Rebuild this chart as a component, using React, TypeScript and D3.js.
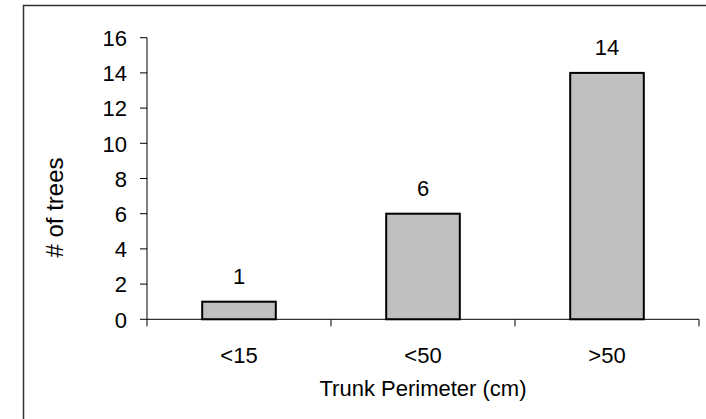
import React from "react";
import * as d3 from "d3";

const categories = ["<15", "<50", ">50"];
const values = [1, 6, 14];
const yTicks = [0, 2, 4, 6, 8, 10, 12, 14, 16];
const yLabel = "# of trees";
const xLabel = "Trunk Perimeter (cm)";

const W = 706;
const H = 419;
const left = 147;
const right = 699;
const top = 37.7;
const bottom = 319.3;
const font = "'Liberation Sans', Arial, sans-serif";

export default function App() {
  const x = d3.scaleBand<string>().domain(categories).range([left, right]).paddingInner(0.6).paddingOuter(0.3);
  const xb = d3.scaleBand<string>().domain(categories).range([left, right]);
  const y = d3.scaleLinear().domain([0, 16]).range([bottom, top]);
  const boundaries = [...categories.map((c) => xb(c) as number), right];

  return (
    <svg width={W} height={H} style={{ position: "absolute", left: 0, top: 0, background: "#fff" }}>
      <rect x={23.5} y={5.5} width={720} height={440} fill="none" stroke="#333" strokeWidth={1.5} />
      {categories.map((c, i) => (
        <g key={c}>
          <rect
            x={x(c)}
            y={y(values[i])}
            width={x.bandwidth()}
            height={y(0) - y(values[i])}
            fill="#c0c0c0"
            stroke="#000"
            strokeWidth={2}
          />
          <text
            x={(x(c) as number) + x.bandwidth() / 2}
            y={y(values[i]) - 18}
            textAnchor="middle"
            fontFamily={font}
            fontSize={22}
            fill="#000"
          >
            {values[i]}
          </text>
          <text
            x={(xb(c) as number) + xb.bandwidth() / 2}
            y={362.7}
            textAnchor="middle"
            fontFamily={font}
            fontSize={22}
            fill="#000"
          >
            {c}
          </text>
        </g>
      ))}
      <line x1={left} x2={left} y1={top} y2={bottom} stroke="#000" strokeWidth={1} />
      <line x1={left} x2={right} y1={bottom} y2={bottom} stroke="#000" strokeWidth={1} />
      {yTicks.map((t) => (
        <g key={t}>
          <line x1={left - 7} x2={left} y1={y(t)} y2={y(t)} stroke="#000" strokeWidth={1} />
          <text x={127} y={y(t) + 8.2} textAnchor="end" fontFamily={font} fontSize={22} fill="#000">
            {t}
          </text>
        </g>
      ))}
      {boundaries.map((b, i) => (
        <line key={i} x1={b} x2={b} y1={bottom} y2={bottom + 7} stroke="#000" strokeWidth={1} />
      ))}
      <text
        transform={`translate(63,207.5) rotate(-90)`}
        textAnchor="middle"
        fontFamily={font}
        fontSize={24}
        fill="#000"
      >
        {yLabel}
      </text>
      <text x={(left + right) / 2} y={396} textAnchor="middle" fontFamily={font} fontSize={22} fill="#000">
        {xLabel}
      </text>
    </svg>
  );
}
